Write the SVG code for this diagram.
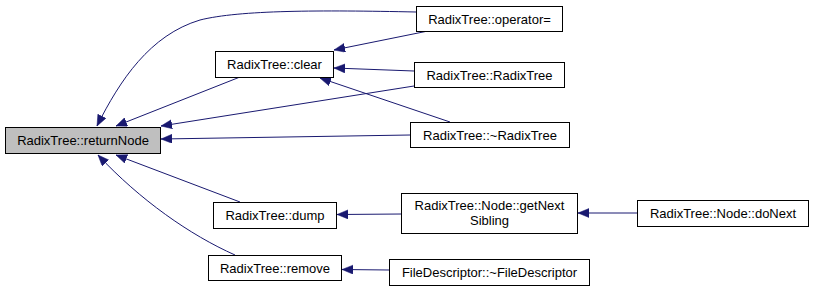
<svg xmlns="http://www.w3.org/2000/svg" width="813" height="291" viewBox="0 0 813 291">
  <style>
    .node rect { fill: #ffffff; stroke: #000000; stroke-width: 1; }
    .node.root rect { fill: #bfbfbf; }
    .node text { font-family: "Liberation Sans", Arial, sans-serif; font-size: 13px; fill: #000000; text-anchor: middle; }
    .edge { fill: none; stroke: #191970; stroke-width: 1; marker-end: url(#arrow); }
  </style>
  <defs>
    <marker id="arrow" markerUnits="userSpaceOnUse" markerWidth="12" markerHeight="10" refX="11" refY="4.5" orient="auto">
      <path d="M0,0 L11,4.5 L0,9 Z" fill="#191970" stroke="#191970" stroke-width="0.5"/>
    </marker>
  </defs>

  <g id="edges">
    <!-- callers of returnNode -->
    <path class="edge" d="M416,12 C320,10 240,10 200,20 C150,35 120,80 97,126"/>
    <path class="edge" d="M240,77 L116,126"/>
    <path class="edge" d="M414,86 L161,126"/>
    <path class="edge" d="M410,135 L161,139"/>
    <path class="edge" d="M240,202 L116,155"/>
    <path class="edge" d="M235,255 C190,235 140,200 98,155"/>
    <!-- callers of clear -->
    <path class="edge" d="M428,31 L334,50"/>
    <path class="edge" d="M414,71 L334,68"/>
    <path class="edge" d="M450,122 L320,78"/>
    <!-- other chains -->
    <path class="edge" d="M401,214 L337,214.5"/>
    <path class="edge" d="M637,213 L578,213"/>
    <path class="edge" d="M389,270 L342,269.5"/>
  </g>

  <g id="returnNode" class="node root">
    <rect x="5.5" y="127.5" width="155" height="26"/>
    <text x="83" y="145">RadixTree::returnNode</text>
  </g>
  <g id="clear" class="node">
    <rect x="215.5" y="51.5" width="118" height="26"/>
    <text x="274.5" y="69">RadixTree::clear</text>
  </g>
  <g id="operatorAssign" class="node">
    <rect x="416.5" y="6.5" width="146" height="25"/>
    <text x="489.5" y="23.5">RadixTree::operator=</text>
  </g>
  <g id="ctor" class="node">
    <rect x="414.5" y="62.5" width="150" height="25"/>
    <text x="489.5" y="79.5">RadixTree::RadixTree</text>
  </g>
  <g id="dtor" class="node">
    <rect x="410.5" y="122.5" width="159" height="25"/>
    <text x="490" y="139.5">RadixTree::~RadixTree</text>
  </g>
  <g id="dump" class="node">
    <rect x="213.5" y="202.5" width="123" height="26"/>
    <text x="275" y="220">RadixTree::dump</text>
  </g>
  <g id="remove" class="node">
    <rect x="208.5" y="255.5" width="133" height="25"/>
    <text x="275" y="272.5">RadixTree::remove</text>
  </g>
  <g id="getNextSibling" class="node">
    <rect x="401.5" y="193.5" width="176" height="40"/>
    <text x="489.5" y="209.5">RadixTree::Node::getNext</text>
    <text x="489.5" y="225">Sibling</text>
  </g>
  <g id="doNext" class="node">
    <rect x="637.5" y="200.5" width="171" height="26"/>
    <text x="723" y="218">RadixTree::Node::doNext</text>
  </g>
  <g id="fileDescriptorDtor" class="node">
    <rect x="389.5" y="259.5" width="200" height="26"/>
    <text x="489.5" y="277">FileDescriptor::~FileDescriptor</text>
  </g>
</svg>
